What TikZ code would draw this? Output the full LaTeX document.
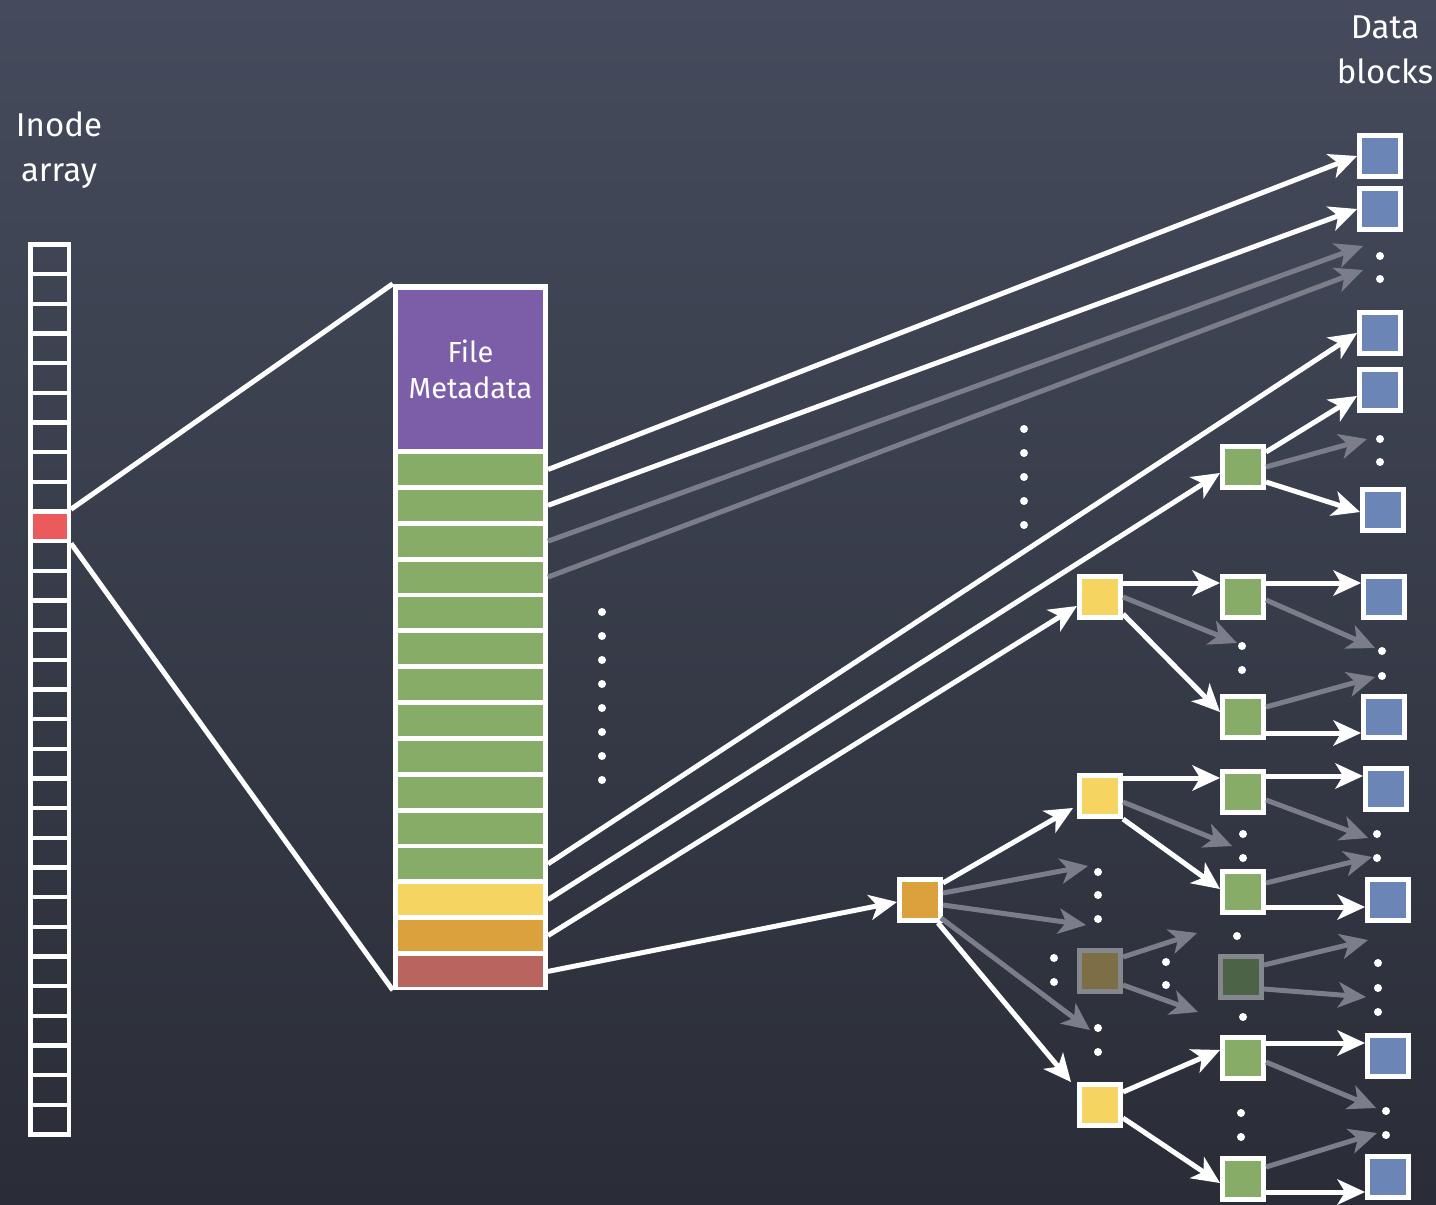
\documentclass[tikz,border=0pt]{standalone}
\usepackage{fontspec}
\setmainfont{Fira Sans}
\usetikzlibrary{arrows.meta}
\definecolor{bgtop}{HTML}{454B5C}
\definecolor{bgmid}{HTML}{393E4B}
\definecolor{bgbot}{HTML}{2A2D37}
\definecolor{cpurple}{HTML}{7B5EA7}
\definecolor{cgreen}{HTML}{87AC68}
\definecolor{cyellow}{HTML}{F5D461}
\definecolor{corange}{HTML}{DBA13C}
\definecolor{crow}{HTML}{B9645E}
\definecolor{cinode}{HTML}{EC5B5B}
\definecolor{cblue}{HTML}{6B86B6}
\definecolor{dimyellow}{HTML}{7C6F45}
\definecolor{dimgreen}{HTML}{4D6347}
\definecolor{dimborder}{HTML}{85878F}
\definecolor{greyarr}{HTML}{7B7E8A}
\begin{document}
\begin{tikzpicture}[x=1pt,y=-1pt,
  lbl/.style={text=white, font=\fontsize{33}{45}\selectfont, align=center, inner sep=0pt},
  icell/.style={draw=white, line width=4.5pt, minimum width=38.5pt, minimum height=29.67pt, inner sep=0pt},
  cellr/.style={minimum width=145pt, minimum height=31pt, inner sep=0pt, outer sep=0pt},
  sq/.style={draw=white, line width=5pt, minimum size=41pt, inner sep=0pt, outer sep=2.5pt},
  dimsq/.style={draw=dimborder, line width=5pt, minimum size=41pt, inner sep=0pt, outer sep=2.5pt},
  wa/.style={draw=white, line width=5pt, -{Stealth[length=28pt,width=26pt,inset=8pt,line width=0pt]}},
  ga/.style={draw=greyarr, line width=5pt, -{Stealth[length=28pt,width=26pt,inset=8pt,line width=0pt]}},
  plain/.style={draw=white, line width=5pt},
  dot/.style={fill=white}
]
\useasboundingbox (0,0) rectangle (1436,1205);
\fill[top color=bgtop, middle color=bgmid, bottom color=bgbot] (0,0) rectangle (1436,1205);

% labels
\node[lbl] (tinode) at (59,150) {Inode\\array};
\node[lbl] (tdata) at (1385,50) {Data\\blocks};

% inode array
\foreach \i in {0,...,29} {
  \node[icell] (ic\i) at (49.5,{259.3+\i*29.67}) {};
}
\node[icell, fill=cinode] (ic9) at (49.5,{259.3+9*29.67}) {};

% inode table
\node[fill=white, minimum width=155pt, minimum height=706pt, inner sep=0pt] (tbl) at (470.5,637) {};
\node[cellr, fill=cpurple, minimum height=159pt, text=white, align=center,
      font=\fontsize{29}{36}\selectfont] (meta) at (470.5,369.5) {File\\Metadata};
\foreach \i in {1,...,12} {
  \node[cellr, fill=cgreen] (g\i) at (470.5,{469.5+(\i-1)*35.85}) {};
}
\node[cellr, fill=cyellow] (ry) at (470.5,899.7) {};
\node[cellr, fill=corange] (ro) at (470.5,935.55) {};
\node[cellr, fill=crow] (rr) at (470.5,971.4) {};

\draw[plain] (ic9.north east) -- (tbl.north west);
\draw[plain] (ic9.south east) -- (tbl.south west);

% blocks
\node[sq, fill=corange] (O) at (920,900) {};
\node[sq, fill=cyellow] (Ym) at (1100,597) {};
\node[sq, fill=cyellow] (Yt) at (1100,796) {};
\node[dimsq, fill=dimyellow] (Yd) at (1100,971) {};
\node[sq, fill=cyellow] (Yb) at (1100,1105) {};
\node[sq, fill=cgreen] (Ga) at (1243,467) {};
\node[sq, fill=cgreen] (Gm1) at (1243,597) {};
\node[sq, fill=cgreen] (Gm2) at (1243,717) {};
\node[sq, fill=cgreen] (Gt1) at (1243,792) {};
\node[sq, fill=cgreen] (Gt2) at (1243,892) {};
\node[dimsq, fill=dimgreen] (Gd) at (1241,977) {};
\node[sq, fill=cgreen] (Gb1) at (1243,1058) {};
\node[sq, fill=cgreen] (Gb2) at (1243,1179) {};
\node[sq, fill=cblue] (B1) at (1380,156) {};
\node[sq, fill=cblue] (B2) at (1380,209) {};
\node[sq, fill=cblue] (B3) at (1380,333) {};
\node[sq, fill=cblue] (B4) at (1380,390) {};
\node[sq, fill=cblue] (B5) at (1383,510) {};
\node[sq, fill=cblue] (Bm1) at (1384,597) {};
\node[sq, fill=cblue] (Bm2) at (1384,717) {};
\node[sq, fill=cblue] (Bt1) at (1386,789) {};
\node[sq, fill=cblue] (Bt2) at (1388,900) {};
\node[sq, fill=cblue] (Bb1) at (1388,1056) {};
\node[sq, fill=cblue] (Bb2) at (1388,1177) {};

% free ends of faded arrows
\coordinate (e1) at (1363,246);
\coordinate (e2) at (1363,270);
\coordinate (e3) at (1367,439);
\coordinate (e4) at (1237,643);
\coordinate (e5) at (1375,648);
\coordinate (e6) at (1375,677);
\coordinate (e7) at (1232,846);
\coordinate (e8) at (1368,838);
\coordinate (e9) at (1372,857);
\coordinate (e10) at (1197,933);
\coordinate (e11) at (1198,1012);
\coordinate (e12) at (1368,940);
\coordinate (e13) at (1366,997);
\coordinate (e14) at (1376,1108);
\coordinate (e15) at (1377,1133);
\coordinate (e16) at (1088,866);
\coordinate (e17) at (1086,925);
\coordinate (e18) at (1090,1030);

% arrows from the inode table
\draw[wa] ([xshift=5pt]g1.east) -- (B1.west);
\draw[wa] ([xshift=5pt]g2.east) -- (B2.west);
\draw[ga] ([xshift=5pt]g3.east) -- (e1);
\draw[ga] ([xshift=5pt]g4.east) -- (e2);
\draw[wa] ([xshift=5pt]g12.east) -- (B3.west);
\draw[wa] ([xshift=5pt]ry.east) -- ([yshift=-6pt]Ga.west);
\draw[wa] ([xshift=5pt]ro.east) -- ([yshift=-9pt]Ym.west);
\draw[wa] ([xshift=5pt]rr.east) -- ([yshift=-2pt]O.west);

% single indirect
\draw[wa] ([yshift=-8pt]Ga.north east) -- ([yshift=-6pt]B4.west);
\draw[ga] (Ga.east) -- (e3);
\draw[wa] ([yshift=8pt]Ga.south east) -- ([yshift=-2pt]B5.west);

% double indirect
\draw[wa] ([yshift=-9pt]Ym.north east) -- ([yshift=-9pt]Gm1.north west);
\draw[ga] (Ym.east) -- (e4);
\draw[wa] ([yshift=6pt]Ym.south east) -- ([yshift=5pt]Gm2.west);
\draw[wa] ([yshift=-9pt]Gm1.north east) -- ([yshift=-9pt]Bm1.north west);
\draw[ga] ([yshift=-3pt]Gm1.east) -- (e5);
\draw[ga] ([yshift=10pt]Gm2.east) -- (e6);
\draw[wa] ([yshift=7pt]Gm2.south east) -- ([yshift=7pt]Bm2.south west);

% triple indirect
\draw[wa] ([yshift=-6pt]O.north east) -- ([xshift=-4pt,yshift=-12pt]Yt.west);
\draw[ga] ([yshift=7pt]O.east) -- (e16);
\draw[ga] ([yshift=-5pt]O.east) -- (e17);
\draw[ga] ([xshift=-2pt,yshift=5pt]O.south east) -- (e18);
\draw[wa] ([xshift=-5pt]O.south east) -- ([xshift=-6pt]Yb.north west);

\draw[wa] ([yshift=-5pt]Yt.north east) -- ([yshift=-9pt]Gt1.north west);
\draw[ga] ([yshift=-6pt]Yt.east) -- (e7);
\draw[wa] (Yt.south east) -- ([yshift=3pt]Gt2.west);
\draw[wa] ([yshift=-7pt]Gt1.north east) -- ([yshift=-10pt]Bt1.north west);
\draw[ga] ([yshift=-8pt]Gt1.east) -- (e8);
\draw[ga] ([yshift=9pt]Gt2.east) -- (e9);
\draw[wa] ([yshift=8pt]Gt2.south east) -- ([yshift=16pt]Bt2.south west);

\draw[ga] ([yshift=14pt]Yd.east) -- (e10);
\draw[ga] ([yshift=-14pt]Yd.east) -- (e11);
\draw[ga] ([yshift=12pt]Gd.east) -- (e12);
\draw[ga] ([yshift=-12pt]Gd.east) -- (e13);

\draw[wa] ([yshift=13pt]Yb.east) -- ([yshift=8pt]Gb1.west);
\draw[wa] ([yshift=-13pt]Yb.east) -- ([yshift=-4pt]Gb2.west);
\draw[wa] ([yshift=-8pt]Gb1.north east) -- ([yshift=-10pt]Bb1.north west);
\draw[ga] ([yshift=-4pt]Gb1.east) -- (e14);
\draw[ga] ([yshift=12pt]Gb2.east) -- (e15);
\draw[wa] ([yshift=10pt]Gb2.south east) -- ([yshift=8pt]Bb2.south west);

% dots
\foreach \y in {612,636,...,780} { \fill[dot] (602,\y) circle (4pt); }
\foreach \y in {429,453,...,526} { \fill[dot] (1024,\y) circle (4pt); }
\foreach \p in {(1380,256),(1380,279),(1380,439),(1380,462),(1382,651),(1382,676),
  (1377,834),(1377,858),(1378,963),(1378,988),(1378,1012),(1386,1111),(1386,1135),
  (1242,646),(1242,670),(1243,834),(1243,858),(1237,936),(1243,1017),(1241,1113),(1241,1137),
  (1098,872),(1098,895),(1098,919),(1098,1028),(1098,1052),
  (1054,958),(1054,982),(1166,962),(1166,985)} {
  \fill[dot] \p circle (4pt);
}
\end{tikzpicture}
\end{document}
